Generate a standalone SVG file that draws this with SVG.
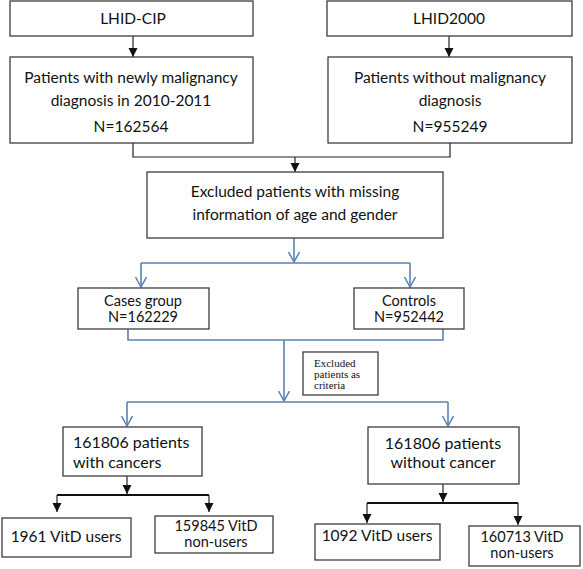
<svg xmlns="http://www.w3.org/2000/svg" width="583" height="569" viewBox="0 0 583 569">
<style>
.box{fill:#fff;stroke:#3c3c3c;stroke-width:1.3}
.t{font-family:Lato,"Liberation Sans",sans-serif;font-size:15.5px;fill:#111;text-anchor:middle}
.s{font-size:14.5px}
.n{font-family:"Liberation Serif",serif;font-size:11px;fill:#111}
.k{fill:none;stroke:#222;stroke-width:1.2}
.kb{fill:none;stroke:#111;stroke-width:2}
.b{fill:none;stroke:#5a82b4;stroke-width:1.6}
</style>
<defs>
<marker id="ah" markerUnits="userSpaceOnUse" markerWidth="10" markerHeight="10" refX="9" refY="4.5" orient="auto" viewBox="0 0 10 10"><path d="M0,0 L9,4.5 L0,9 z" fill="#111"/></marker>
<marker id="ab" markerUnits="userSpaceOnUse" markerWidth="12" markerHeight="14" refX="10" refY="6" orient="auto" viewBox="0 0 12 14"><path d="M0,0.5 L10,6 L0,11.5" fill="none" stroke="#5a82b4" stroke-width="1.5"/></marker>
</defs>
<g id="connectors">
<path class="k" d="M133,36 V57" marker-end="url(#ah)"/>
<path class="k" d="M449,36 V57" marker-end="url(#ah)"/>
<path class="k" d="M133,143 V157 H450 V143"/>
<path class="k" d="M295,157 V172" marker-end="url(#ah)"/>
<path class="b" d="M294,238 V262" marker-end="url(#ab)"/>
<path class="b" d="M141,263 H410"/>
<path class="b" d="M141,263 V287" marker-end="url(#ab)"/>
<path class="b" d="M410,263 V287" marker-end="url(#ab)"/>
<path class="b" d="M128,329 V340 H443 V329"/>
<path class="b" d="M284,340 V401" marker-end="url(#ab)"/>
<path class="b" d="M127,402 H448"/>
<path class="b" d="M127,402 V426" marker-end="url(#ab)"/>
<path class="b" d="M448,402 V426" marker-end="url(#ab)"/>
<path class="k" d="M127,476 V494" marker-end="url(#ah)"/>
<path class="kb" d="M57,495 H209"/>
<path class="k" d="M57,495 V512" stroke-width="2" marker-end="url(#ah)"/>
<path class="k" d="M209,495 V512" stroke-width="2" marker-end="url(#ah)"/>
<path class="k" d="M443,484 V502" marker-end="url(#ah)"/>
<path class="kb" d="M367,503 H518"/>
<path class="k" d="M367,503 V523" stroke-width="2" marker-end="url(#ah)"/>
<path class="k" d="M518,503 V525" stroke-width="2" marker-end="url(#ah)"/>
</g>
<g id="lhid-cip"><rect class="box" x="10" y="1" width="243" height="35"/><text class="t" x="133" y="24">LHID-CIP</text></g>
<g id="lhid2000"><rect class="box" x="327" y="1" width="245" height="35"/><text class="t" x="449" y="24">LHID2000</text></g>
<g id="malignancy"><rect class="box" x="10" y="57" width="243" height="86"/>
<text class="t" x="131" y="83">Patients with newly malignancy</text>
<text class="t" x="131" y="106">diagnosis in 2010-2011</text>
<text class="t" x="131" y="132">N=162564</text></g>
<g id="no-malignancy"><rect class="box" x="328" y="57" width="244" height="86"/>
<text class="t" x="450" y="83">Patients without malignancy</text>
<text class="t" x="450" y="106">diagnosis</text>
<text class="t" x="450" y="132">N=955249</text></g>
<g id="excluded"><rect class="box" x="147" y="172" width="296" height="66"/>
<text class="t" x="295" y="197">Excluded patients with missing</text>
<text class="t" x="295" y="220">information of age and gender</text></g>
<g id="cases"><rect class="box" x="78" y="288" width="131" height="41"/>
<text class="t s" x="143" y="306">Cases group</text>
<text class="t s" x="143" y="322">N=162229</text></g>
<g id="controls"><rect class="box" x="354" y="288" width="110" height="41"/>
<text class="t s" x="409" y="306">Controls</text>
<text class="t s" x="409" y="322">N=952442</text></g>
<g id="criteria"><rect class="box" x="303" y="352" width="75" height="43"/>
<text class="n" x="314" y="367">Excluded</text>
<text class="n" x="314" y="378">patients as</text>
<text class="n" x="314" y="389">criteria</text></g>
<g id="with-cancers"><rect class="box" x="63" y="427" width="139" height="49"/>
<text class="t" x="73" y="448" style="text-anchor:start;font-size:16px">161806 patients</text>
<text class="t" x="73" y="468" style="text-anchor:start;font-size:16px">with cancers</text></g>
<g id="without-cancer"><rect class="box" x="368" y="427" width="151" height="57"/>
<text class="t" x="443" y="449" style="font-size:16px">161806 patients</text>
<text class="t" x="443" y="468" style="font-size:16px">without cancer</text></g>
<g id="users1961"><rect class="box" x="2" y="518" width="129" height="39"/>
<text class="t" x="66" y="542">1961 VitD users</text></g>
<g id="nonusers159845"><rect class="box" x="155" y="516" width="118" height="37"/>
<text class="t s" x="216" y="531">159845 VitD</text>
<text class="t s" x="216" y="547">non-users</text></g>
<g id="users1092"><rect class="box" x="315" y="524" width="125" height="36"/>
<text class="t" x="377" y="541">1092 VitD users</text></g>
<g id="nonusers160713"><rect class="box" x="469" y="526" width="111" height="40"/>
<text class="t s" x="522" y="542">160713 VitD</text>
<text class="t s" x="522" y="558">non-users</text></g>
</svg>
